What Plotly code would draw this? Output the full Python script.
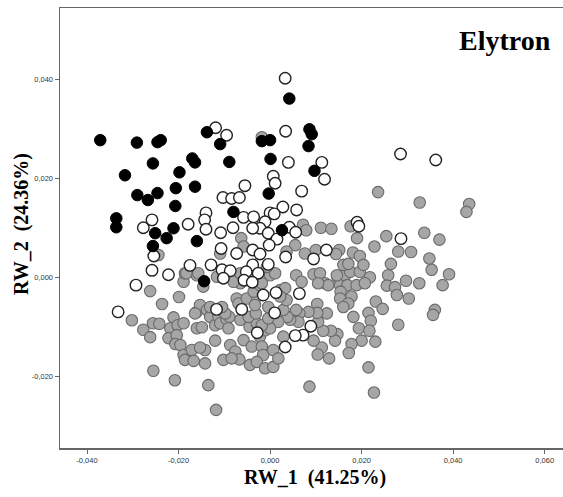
import plotly.graph_objects as go

# Group 1: grey filled circles
grey_x = [-0.0262,-0.0236,-0.0199,-0.0302,-0.0277,-0.0256,-0.0242,-0.0262,-0.0255,-0.0208,
          -0.0135,-0.0118,-0.0211,-0.0218,-0.0202,-0.0189,-0.0222,-0.0204,-0.0207,-0.0196,
          -0.0189,-0.0171,-0.0186,-0.0167,-0.0142,-0.0142,-0.0153,-0.0160,-0.0149,-0.0160,
          -0.0153,-0.0138,-0.0131,-0.0120,-0.0113,-0.0120,-0.0109,-0.0095,-0.0089,-0.0091,
          -0.0087,-0.0076,-0.0067,-0.0102,-0.0084,-0.0058,-0.0040,-0.0045,-0.0029,-0.0022,
          -0.0011,-0.0018,-0.0015,-0.0044,-0.0029,-0.0011,0.0007,0.0007,-0.0065,-0.0047,
          -0.0031,-0.0073,-0.0069,-0.0051,-0.0029,-0.0033,-0.0004,-0.0065,-0.0036,-0.0022,
          0.0000,0.0011,-0.0080,-0.0189,-0.0186,-0.0160,-0.0146,-0.0116,-0.0164,-0.0131,
          -0.0098,-0.0105,-0.0063,-0.0058,-0.0109,-0.0244,-0.0183,-0.0157,-0.0065,-0.0018,
          0.0057,0.0095,0.0109,0.0120,0.0127,0.0147,0.0153,0.0164,0.0175,0.0196,
          0.0169,0.0189,0.0218,0.0207,0.0154,0.0153,0.0178,0.0171,0.0160,0.0258,
          0.0255,0.0273,0.0277,0.0297,0.0326,0.0353,0.0391,0.0377,0.0303,0.0231,
          0.0246,0.0215,0.0220,0.0182,0.0194,0.0217,0.0200,0.0178,0.0172,0.0230,
          0.0215,0.0227,0.0086,0.0129,0.0113,0.0104,0.0147,0.0142,0.0133,0.0116,
          0.0105,0.0095,0.0124,0.0103,0.0103,0.0084,0.0064,0.0062,0.0044,0.0038,
          0.0057,0.0029,0.0036,0.0022,0.0033,-0.0018,0.0018,0.0000,-0.0018,0.0029,
          0.0018,0.0360,0.0356,0.0280,-0.0004,0.0236,0.0327,0.0435,0.0429,0.0072,
          0.0079,0.0111,0.0134,0.0176,0.0190,0.0254,0.0228,0.0280,0.0308,0.0337,
          0.0370,0.0348,0.0264,0.0055,0.0036,0.0076,0.0100,0.0151,0.0144,0.0181,
          0.0196,0.0160,0.0171,0.0204,0.0146,-0.0007,0.0069,0.0105,0.0022]
grey_y = [-0.0027,-0.0053,-0.0039,-0.0086,-0.0105,-0.0092,-0.0093,-0.0120,-0.0188,-0.0207,
          -0.0217,-0.0267,-0.0080,-0.0102,-0.0096,-0.0092,-0.0122,-0.0116,-0.0134,-0.0136,
          -0.0156,-0.0146,-0.0166,-0.0168,-0.0173,-0.0146,-0.0141,-0.0102,-0.0100,-0.0069,
          -0.0055,-0.0065,-0.0079,-0.0096,-0.0079,-0.0127,-0.0092,-0.0084,-0.0079,-0.0102,
          -0.0136,-0.0149,-0.0165,-0.0166,-0.0163,-0.0126,-0.0139,-0.0099,-0.0092,-0.0119,
          -0.0106,-0.0139,-0.0156,-0.0176,-0.0170,-0.0183,-0.0180,-0.0146,-0.0085,-0.0079,
          -0.0072,-0.0042,-0.0052,-0.0042,-0.0038,-0.0055,-0.0059,-0.0011,-0.0028,-0.0015,
          0.0005,0.0009,-0.0008,-0.0008,0.0009,0.0005,-0.0018,0.0002,-0.0072,-0.0059,
          -0.0072,-0.0059,0.0080,0.0063,0.0049,0.0046,0.0009,0.0009,0.0009,0.0284,
          0.0005,0.0007,0.0009,-0.0011,-0.0015,0.0002,-0.0015,0.0005,0.0012,0.0012,
          -0.0015,-0.0015,0.0001,-0.0011,-0.0028,-0.0042,-0.0038,-0.0052,-0.0059,0.0005,
          -0.0016,-0.0019,-0.0035,-0.0006,-0.0011,0.0016,0.0007,-0.0015,-0.0042,-0.0048,
          -0.0063,-0.0071,-0.0087,-0.0079,-0.0102,-0.0107,-0.0127,-0.0134,-0.0152,-0.0129,
          -0.0181,-0.0232,-0.0220,-0.0163,-0.0141,-0.0155,-0.0114,-0.0127,-0.0107,-0.0107,
          -0.0089,-0.0127,-0.0072,-0.0053,-0.0071,-0.0069,-0.0072,-0.0089,-0.0085,-0.0079,
          -0.0065,-0.0065,-0.0045,-0.0025,-0.0021,-0.0011,-0.0089,-0.0102,-0.0096,-0.0119,
          -0.0163,-0.0065,-0.0075,-0.0095,-0.0082,0.0173,0.0152,0.0149,0.0133,0.0107,
          0.0096,0.0101,0.0099,0.0104,0.0080,0.0084,0.0063,0.0053,0.0052,0.0091,
          0.0077,0.0039,0.0028,0.0066,0.0053,0.0049,0.0056,0.0056,0.0048,0.0051,
          0.0044,0.0026,0.0028,0.0026,0.0005,0.0022,-0.0008,-0.0011,-0.0038]

# Group 2: open (white) circles
white_x = [0.0033,0.0034,0.0040,0.0113,0.0119,0.0069,0.0028,0.0058,0.0285,0.0362,
           0.0190,0.0194,0.0042,0.0056,0.0286,0.0123,0.0095,0.0034,-0.0004,0.0007,
           0.0011,0.0000,0.0009,-0.0011,-0.0022,-0.0004,0.0015,-0.0002,-0.0119,-0.0095,
           -0.0055,-0.0103,-0.0084,-0.0067,-0.0140,-0.0143,-0.0140,-0.0179,-0.0258,-0.0277,
           -0.0081,-0.0108,-0.0058,-0.0036,-0.0038,-0.0107,-0.0073,-0.0038,-0.0022,-0.0254,
           -0.0129,-0.0105,-0.0087,-0.0038,-0.0026,-0.0052,-0.0175,-0.0258,-0.0222,-0.0293,
           -0.0102,-0.0057,-0.0039,0.0013,-0.0015,-0.0117,-0.0062,0.0010,-0.0028,-0.0332,
           0.0064,0.0089,0.0072,0.0055,0.0033]
white_y = [0.0403,0.0296,0.0233,0.0233,0.0199,0.0175,0.0143,0.0137,0.0250,0.0238,
           0.0112,0.0104,0.0102,0.0092,0.0079,0.0056,0.0038,0.0042,0.0027,0.0205,
           0.0191,0.0131,0.0129,0.0113,0.0100,0.0090,0.0078,0.0066,0.0303,0.0288,
           0.0186,0.0162,0.0160,0.0162,0.0131,0.0117,0.0098,0.0108,0.0117,0.0101,
           0.0101,0.0091,0.0122,0.0123,0.0100,0.0059,0.0049,0.0056,0.0048,0.0044,
           0.0026,0.0016,0.0014,0.0026,0.0009,0.0012,0.0025,0.0015,0.0006,-0.0015,
           -0.0001,-0.0005,-0.0009,-0.0030,-0.0035,-0.0064,-0.0064,-0.0071,-0.0111,-0.0069,
           -0.0032,-0.0098,-0.0116,-0.0117,-0.0140]

# Group 3: black filled circles
black_x = [-0.0371,-0.0291,-0.0246,-0.0239,-0.0138,-0.0109,-0.0018,0.0000,-0.0256,-0.0170,
           -0.0164,-0.0089,0.0001,-0.0317,-0.0198,-0.0290,-0.0267,-0.0246,-0.0206,-0.0164,
           -0.0207,-0.0080,-0.0003,-0.0336,-0.0336,-0.0251,-0.0211,-0.0226,-0.0160,-0.0256,
           -0.0144,0.0042,0.0086,0.0091,0.0084,0.0097,0.0026]
black_y = [0.0278,0.0273,0.0274,0.0278,0.0294,0.0270,0.0276,0.0278,0.0231,0.0241,
           0.0233,0.0234,0.0240,0.0207,0.0213,0.0167,0.0157,0.0171,0.0181,0.0184,
           0.0145,0.0133,0.0170,0.0120,0.0102,0.0090,0.0100,0.0080,0.0074,0.0064,
           -0.0007,0.0362,0.0300,0.0290,0.0266,0.0216,0.0096]

x_tick_vals = [-0.04, -0.02, 0.0, 0.02, 0.04, 0.06]
x_tick_text = ["-0,040", "-0,020", "0,000", "0,020", "0,040", "0,060"]
y_tick_vals = [-0.02, 0.0, 0.02, 0.04]
y_tick_text = ["-0,020", "0,000", "0,020", "0,040"]

title_text = "Elytron"
x_title = "RW_1  (41.25%)"
y_title = "RW_2  (24.36%)"

fig = go.Figure()
fig.add_trace(go.Scatter(x=grey_x, y=grey_y, mode="markers",
                         marker=dict(size=11.5, color="#a6a6a6",
                                     line=dict(color="#6a6a6a", width=1.1)),
                         showlegend=False, hoverinfo="skip"))
fig.add_trace(go.Scatter(x=white_x, y=white_y, mode="markers",
                         marker=dict(size=11.5, color="#ffffff",
                                     line=dict(color="#222222", width=1.4)),
                         showlegend=False, hoverinfo="skip"))
fig.add_trace(go.Scatter(x=black_x, y=black_y, mode="markers",
                         marker=dict(size=11.5, color="#000000",
                                     line=dict(color="#000000", width=1)),
                         showlegend=False, hoverinfo="skip"))

serif = "Liberation Serif, Times New Roman, serif"
tick_font = dict(family="Liberation Sans, Arial, sans-serif", size=7.5, color="#333333")
fig.update_layout(
    width=563, height=497,
    margin=dict(l=60, r=0, t=8, b=49, autoexpand=False),
    paper_bgcolor="white", plot_bgcolor="white",
    xaxis=dict(range=[-0.0459, 0.064], tickvals=x_tick_vals, ticktext=x_tick_text,
               showgrid=False, zeroline=False, showline=True, linecolor="#666666",
               linewidth=1.5, mirror=True, ticks="outside", ticklen=4, tickcolor="#666666",
               automargin=False, tickfont=tick_font),
    yaxis=dict(range=[-0.0344, 0.0545], tickvals=y_tick_vals, ticktext=y_tick_text,
               showgrid=False, zeroline=False, showline=True, linecolor="#666666",
               linewidth=1.5, ticks="outside", ticklen=4, tickcolor="#666666",
               automargin=False, tickfont=tick_font),
    annotations=[
        dict(text="<b>%s</b>" % title_text, xref="paper", yref="paper", x=0.885, y=0.925,
             xanchor="center", yanchor="middle", showarrow=False,
             font=dict(family=serif, size=28, color="#000000")),
        dict(text="<b>%s</b>" % x_title, xref="paper", yref="paper", x=0.507, y=-0.068,
             xanchor="center", yanchor="middle", showarrow=False,
             font=dict(family=serif, size=20, color="#000000")),
        dict(text="<b>%s</b>" % y_title, xref="paper", yref="paper", x=-0.0775, y=0.509,
             xanchor="center", yanchor="middle", showarrow=False, textangle=-90,
             font=dict(family=serif, size=20, color="#000000")),
    ],
)

page_style = ("document.documentElement.style.margin='0';"
              "document.body.style.margin='0';"
              "document.body.style.padding='0';"
              "document.documentElement.style.overflow='hidden';"
              "document.body.style.overflow='hidden';")
fig.write_html("out.html", post_script=page_style,
               config={"displayModeBar": False, "staticPlot": True})
